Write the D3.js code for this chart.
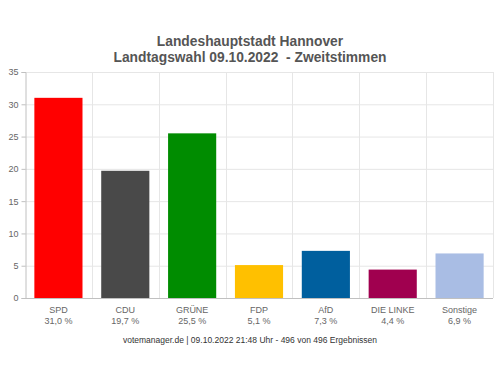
<!DOCTYPE html>
<html>
<head>
<meta charset="utf-8">
<script src="https://cdn.jsdelivr.net/npm/d3@7"></script>
<style>
  body { margin: 0; background: #fff; }
  text { font-family: "Liberation Sans", Arial, sans-serif; }
</style>
</head>
<body>
<div id="chart"></div>
<script>
var width = 500,
    height = 375;

var parties = ["SPD", "CDU", "GRÜNE", "FDP", "AfD", "DIE LINKE", "Sonstige"];
var shares = [31.0, 19.7, 25.5, 5.1, 7.3, 4.4, 6.9];
var colors = ["#ff0000", "#494949", "#008c00", "#ffc000", "#005f9e", "#a0004f", "#a9bde4"];
var yTicks = [0, 5, 10, 15, 20, 25, 30, 35];

var margin = {top: 72, right: 7, bottom: 77, left: 25};

var svg = d3.select("#chart")
    .append("svg")
    .attr("width", width)
    .attr("height", height);

var x = d3.scaleBand()
    .domain(parties)
    .range([margin.left, width - margin.right])
    .paddingInner(0.28)
    .paddingOuter(0.14);

var y = d3.scaleLinear()
    .domain([0, 35])
    .range([height - margin.bottom, margin.top]);

// horizontal grid
svg.append("g")
    .selectAll("line")
    .data(yTicks.slice(1))
    .enter()
    .append("line")
    .attr("x1", margin.left)
    .attr("x2", width - margin.right)
    .attr("y1", function (d) { return y(d) + 0.5; })
    .attr("y2", function (d) { return y(d) + 0.5; })
    .style("stroke", "#e6e6e6");

// vertical grid at category boundaries
var step = (width - margin.right - margin.left) / parties.length;
svg.append("g")
    .selectAll("line")
    .data(d3.range(1, parties.length + 1))
    .enter()
    .append("line")
    .attr("x1", function (i) { return Math.round(margin.left + i * step) + 0.5; })
    .attr("x2", function (i) { return Math.round(margin.left + i * step) + 0.5; })
    .attr("y1", margin.top)
    .attr("y2", y(0))
    .style("stroke", "#e6e6e6");

// bars
svg.append("g")
    .selectAll("rect")
    .data(shares)
    .enter()
    .append("rect")
    .attr("x", function (d, i) { return x(parties[i]); })
    .attr("width", x.bandwidth())
    .attr("y", function (d) { return y(d); })
    .attr("height", function (d) { return y(0) - y(d); })
    .attr("fill", function (d, i) { return colors[i]; });

// y axis
var yAxis = svg.append("g")
    .attr("transform", "translate(" + (margin.left + 0.5) + ",0)")
    .call(d3.axisLeft(y).tickValues(yTicks).tickSize(4).tickPadding(3));
yAxis.select(".domain").attr("stroke", "#c0c0c0");
yAxis.selectAll(".tick line").attr("stroke", "#c0c0c0");
yAxis.selectAll(".tick text")
    .style("font-size", "9px")
    .style("fill", "#666");

// baseline
svg.append("line")
    .attr("x1", margin.left)
    .attr("x2", width - margin.right)
    .attr("y1", y(0) + 0.5)
    .attr("y2", y(0) + 0.5)
    .style("stroke", "#c0c0c0");

// category labels
var labels = svg.append("g")
    .selectAll("text")
    .data(parties)
    .enter()
    .append("text")
    .attr("x", function (d) { return x(d) + x.bandwidth() / 2; })
    .attr("y", y(0) + 15)
    .style("text-anchor", "middle")
    .style("font-size", "9px")
    .style("fill", "#666");
labels.append("tspan")
    .attr("x", function (d) { return x(d) + x.bandwidth() / 2; })
    .text(function (d) { return d; });
labels.append("tspan")
    .attr("x", function (d) { return x(d) + x.bandwidth() / 2; })
    .attr("dy", 10.5)
    .text(function (d, i) { return shares[i].toFixed(1).replace(".", ",") + " %"; });

// titles
svg.append("text")
    .attr("x", width / 2)
    .attr("y", 46)
    .style("text-anchor", "middle")
    .style("font-size", "13.8px")
    .style("font-weight", "bold")
    .style("fill", "#555")
    .text("Landeshauptstadt Hannover");
svg.append("text")
    .attr("x", width / 2)
    .attr("y", 62)
    .style("text-anchor", "middle")
    .style("font-size", "13.8px")
    .style("font-weight", "bold")
    .style("fill", "#555")
    .style("white-space", "pre")
    .text("Landtagswahl 09.10.2022  - Zweitstimmen");

// footer
svg.append("text")
    .attr("x", width / 2)
    .attr("y", 343)
    .style("text-anchor", "middle")
    .style("font-size", "8.5px")
    .style("fill", "#333")
    .text("votemanager.de | 09.10.2022 21:48 Uhr - 496 von 496 Ergebnissen");
</script>
</body>
</html>
